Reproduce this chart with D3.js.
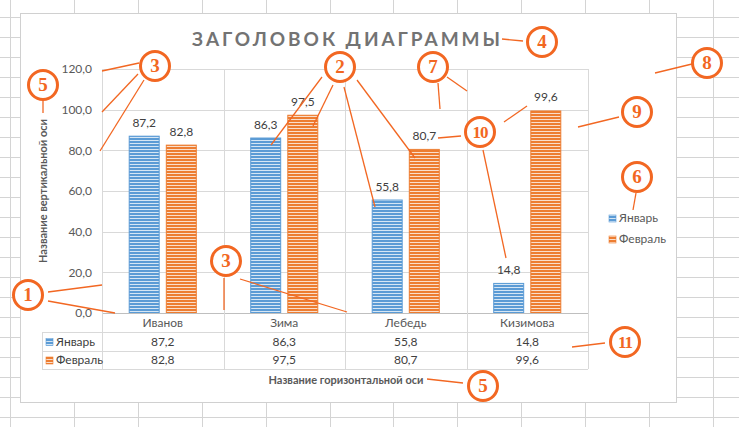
<!DOCTYPE html>
<html><head><meta charset="utf-8">
<script src="https://cdn.jsdelivr.net/npm/d3@7"></script>
<style>
html,body{margin:0;padding:0;background:#fff;}
svg{display:block;font-family:Lato,"Open Sans",sans-serif;}
</style></head>
<body>
<svg id="c" width="739" height="427"></svg>
<script>
// ---------- data ----------
const categories = ["Иванов", "Зима", "Лебедь", "Кизимова"];
const seriesNames = ["Январь", "Февраль"];
const january = [87.2, 86.3, 55.8, 14.8];
const february = [82.8, 97.5, 80.7, 99.6];
const yTicks = [0, 20, 40, 60, 80, 100, 120];
const chartTitle = "ЗАГОЛОВОК ДИАГРАММЫ";
const xTitle = "Название горизонтальной оси";
const yTitle = "Название вертикальной оси";
const colors = ["#5B9BD5", "#ED7D31"];

// annotation callouts (decoration overlay): [label, cx, cy, leader lines]
const annotations = [
  ["1", 28, 295, [[48,292,102,285],[48,301,115,313]]],
  ["3", 155, 66, [[139,63,102,71],[138,74,102,112],[144,80,100,151]]],
  ["2", 340, 67, [[322,77,271,145],[333,85,313,126],[344,87,375,207],[357,80,415,158]]],
  ["4", 542, 42, [[523,41,502,39]]],
  ["7", 433, 67, [[438,83,440,109],[447,77,467,91]]],
  ["8", 707, 63, [[692,64,655,73]]],
  ["9", 637, 112, [[619,117,578,127]]],
  ["10", 480, 132, [[461,136,438,138],[504,122,527,106],[483,150,506,258]]],
  ["5", 43, 85, [[43,100,43,113]]],
  ["6", 637, 177, [[636,193,633,210]]],
  ["3", 226, 261, [[224,278,224,310],[240,279,347,312]]],
  ["11", 625, 342, [[605,343,572,347]]],
  ["5", 483, 386, [[463,383,427,379]]]
];

const svg = d3.select("#c");
const W = 739, H = 427;
const grid = "#d9d9d9", txt = "#595959", annoC = "#F26722";

// spreadsheet background grid
const sheet = svg.append("g");
d3.range(0, 12).forEach(i => {
  const x = Math.round(10 + i * 63.9) + 0.5;
  sheet.append("line").attr("x1", x).attr("x2", x).attr("y1", 0).attr("y2", H).attr("stroke", "#d4d4d4");
});
d3.range(0, 21).forEach(i => {
  const y = 17 + i * 20 + 0.5;
  sheet.append("line").attr("x1", 0).attr("x2", W).attr("y1", y).attr("y2", y).attr("stroke", "#d4d4d4");
});

// chart area
svg.append("rect").attr("x", 20.5).attr("y", 13.5).attr("width", 656).attr("height", 389)
  .attr("fill", "#fff").attr("stroke", "#d0d0d0");

// patterns
const defs = svg.append("defs");
colors.forEach((c, i) => {
  const p = defs.append("pattern").attr("id", "pat" + i).attr("patternUnits", "userSpaceOnUse")
    .attr("width", 4).attr("height", 3);
  p.append("rect").attr("width", 4).attr("height", 3).attr("fill", c);
  p.append("rect").attr("y", 2).attr("width", 4).attr("height", 1).attr("fill", "#fff").attr("opacity", 0.75);
});

// scales
const plot = {left: 102, right: 588, top: 69, bottom: 313};
const x0 = d3.scaleBand().domain(categories).range([plot.left, plot.right]).padding(0);
const x1 = d3.scaleBand().domain(seriesNames).range([0, x0.bandwidth()]).paddingInner(0.165).paddingOuter(0.72);
const y = d3.scaleLinear().domain([0, 120]).range([plot.bottom, plot.top]);

// gridlines
const g = svg.append("g");
yTicks.forEach(t => {
  if (t === 0) return;
  g.append("line").attr("x1", plot.left).attr("x2", plot.right)
    .attr("y1", Math.round(y(t)) + 0.5).attr("y2", Math.round(y(t)) + 0.5).attr("stroke", grid);
});
categories.concat(["__end"]).forEach((c, i) => {
  const xx = Math.round(i < categories.length ? x0(c) : plot.right) + 0.5;
  g.append("line").attr("x1", xx).attr("x2", xx).attr("y1", plot.top).attr("y2", plot.bottom).attr("stroke", grid);
});

// y axis labels
const yAxis = d3.axisLeft(y).tickValues(yTicks).tickSize(0).tickPadding(10)
  .tickFormat(d => d3.format(".1f")(d).replace(".", ","));
const ya = svg.append("g").attr("transform", `translate(${plot.left},0)`).call(yAxis);
ya.select(".domain").remove();
ya.selectAll("text").attr("fill", txt).style("font-size", "12px").style("font-family", "Lato,sans-serif");

// bars
const seriesVals = [january, february];
const bars = svg.append("g");
categories.forEach((c, ci) => {
  seriesNames.forEach((s, si) => {
    const v = seriesVals[si][ci];
    const bx = x0(c) + x1(s);
    bars.append("rect").attr("x", bx + 0.5).attr("y", y(v) + 0.5)
      .attr("width", x1.bandwidth() - 1).attr("height", y(0) - y(v) - 0.5)
      .attr("fill", `url(#pat${si})`).attr("stroke", colors[si]).attr("stroke-width", 1);
    bars.append("text").attr("x", bx + x1.bandwidth() / 2).attr("y", y(v) - 9)
      .attr("text-anchor", "middle").attr("fill", "#404040").style("font-size", "12px")
      .text(d3.format(".1f")(v).replace(".", ","));
  });
});

// axis line
svg.append("line").attr("x1", plot.left).attr("x2", plot.right).attr("y1", plot.bottom + 0.5).attr("y2", plot.bottom + 0.5)
  .attr("stroke", "#bfbfbf").attr("stroke-width", 1.2);

// data table
const rowH = [313, 332, 351, 369];
const tLeft = 42;
const tg = svg.append("g");
[rowH[1], rowH[2], rowH[3]].forEach(yy => {
  tg.append("line").attr("x1", tLeft).attr("x2", plot.right).attr("y1", yy + 0.5).attr("y2", yy + 0.5).attr("stroke", grid);
});
tg.append("line").attr("x1", tLeft + 0.5).attr("x2", tLeft + 0.5).attr("y1", rowH[1]).attr("y2", rowH[3]).attr("stroke", grid);
categories.concat(["__end"]).forEach((c, i) => {
  const xx = Math.round(i < categories.length ? x0(c) : plot.right) + 0.5;
  tg.append("line").attr("x1", xx).attr("x2", xx).attr("y1", rowH[0]).attr("y2", rowH[3]).attr("stroke", grid);
});
categories.forEach((c, ci) => {
  const cx = x0(c) + x0.bandwidth() / 2;
  tg.append("text").attr("x", cx).attr("y", (rowH[0] + rowH[1]) / 2 + 4).attr("text-anchor", "middle")
    .attr("fill", txt).style("font-size", "12px").text(c);
  seriesVals.forEach((vals, si) => {
    tg.append("text").attr("x", cx).attr("y", (rowH[si + 1] + rowH[si + 2]) / 2 + 4).attr("text-anchor", "middle")
      .attr("fill", "#404040").style("font-size", "12px").text(d3.format(".1f")(vals[ci]).replace(".", ","));
  });
});
seriesNames.forEach((s, si) => {
  const yc = (rowH[si + 1] + rowH[si + 2]) / 2;
  tg.append("rect").attr("x", 46).attr("y", yc - 3).attr("width", 7).attr("height", 7).attr("fill", `url(#pat${si})`).attr("stroke", colors[si]).attr("stroke-width", 0.6);
  tg.append("text").attr("x", 56).attr("y", yc + 4).attr("fill", "#404040").style("font-size", "12px").text(s);
});

// legend
seriesNames.forEach((s, si) => {
  const yc = 218 + si * 21;
  svg.append("rect").attr("x", 609).attr("y", yc - 3).attr("width", 7).attr("height", 7).attr("fill", `url(#pat${si})`).attr("stroke", colors[si]).attr("stroke-width", 0.6);
  svg.append("text").attr("x", 619).attr("y", yc + 4).attr("fill", txt).style("font-size", "12px").text(s);
});

// titles
svg.append("text").attr("x", 346).attr("y", 46).attr("text-anchor", "middle")
  .attr("fill", "#737373").style("font-size", "19px").style("font-weight", "bold")
  .attr("textLength", 308).attr("lengthAdjust", "spacing").text(chartTitle);
svg.append("text").attr("x", 346).attr("y", 384).attr("text-anchor", "middle")
  .attr("fill", txt).style("font-size", "11px").style("font-weight", "bold").text(xTitle);
svg.append("text").attr("transform", `translate(47,${(plot.top + plot.bottom) / 2}) rotate(-90)`).attr("text-anchor", "middle")
  .attr("fill", txt).style("font-size", "11px").style("font-weight", "bold").text(yTitle);

// annotations
const an = svg.append("g");
annotations.forEach(([lab, cx, cy, lines]) => {
  lines.forEach(l => {
    an.append("line").attr("x1", l[0]).attr("y1", l[1]).attr("x2", l[2]).attr("y2", l[3])
      .attr("stroke", annoC).attr("stroke-width", 1.3);
  });
});
annotations.forEach(([lab, cx, cy]) => {
  an.append("circle").attr("cx", cx).attr("cy", cy).attr("r", 14.5).attr("fill", "#fff")
    .attr("stroke", annoC).attr("stroke-width", 3);
  an.append("text").attr("x", cx).attr("y", cy + 6).attr("text-anchor", "middle")
    .attr("fill", annoC).style("font-family", "'Liberation Serif','DejaVu Serif',serif").style("font-weight", "bold")
    .style("font-size", lab.length > 1 ? "17px" : "19px").attr("letter-spacing", lab.length > 1 ? "-1px" : "0")
    .text(lab);
});
</script>
</body></html>
